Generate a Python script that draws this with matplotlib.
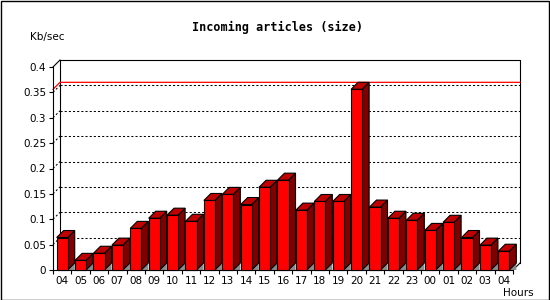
import matplotlib
matplotlib.use("Agg")
import matplotlib.pyplot as plt
from matplotlib.patches import Polygon, Rectangle

hours = ["04", "05", "06", "07", "08", "09", "10", "11", "12", "13", "14", "15", "16",
         "17", "18", "19", "20", "21", "22", "23", "00", "01", "02", "03", "04"]
kbsec = [0.064, 0.019, 0.033, 0.049, 0.082, 0.102, 0.108, 0.096, 0.137, 0.149, 0.129,
         0.163, 0.177, 0.118, 0.135, 0.135, 0.356, 0.124, 0.102, 0.098, 0.078, 0.094,
         0.064, 0.049, 0.037]
yticks = [0, 0.05, 0.1, 0.15, 0.2, 0.25, 0.3, 0.35, 0.4]
ylabels = ["0", "0.05", "0.1", "0.15", "0.2", "0.25", "0.3", "0.35", "0.4"]

W, H = 550, 300
DEPTH = 7  # px, pseudo 3d offset
n = len(kbsec)
ymax = 0.4

fig = plt.figure(figsize=(W / 100, H / 100), dpi=100)
fig.patches.append(Rectangle((0.5 / W, 0.5 / H), 1 - 1.5 / W, 1 - 1.5 / H,
                             transform=fig.transFigure, fill=False, lw=1.0, ec="black"))

ax = fig.add_axes([53 / W, 30 / H, 460 / W, 203 / H])
ax.set_xlim(0, n)
ax.set_ylim(0, ymax)
ax.patch.set_visible(False)
for s in ("top", "right"):
    ax.spines[s].set_visible(False)
for s in ("left", "bottom"):
    ax.spines[s].set_linewidth(0.8)

# depth in data units
dx = DEPTH / (ax.bbox.width / n)
dy = DEPTH / (ax.bbox.height / ymax)

kw = dict(clip_on=False, lw=0.8, color="black")
# back wall outline and side edges
ax.plot([dx, dx, n + dx, n + dx], [dy, ymax + dy, ymax + dy, dy], zorder=1, **kw)
ax.plot([0, dx], [ymax, ymax + dy], zorder=1, **kw)
ax.plot([n, n + dx], [0, dy], zorder=1, **kw)

# dotted grid on back wall + left wall
for v in yticks[1:-1]:
    ax.plot([dx, n + dx], [v + dy, v + dy], clip_on=False, lw=0.75, color="black",
            ls=(0, (2, 2)), zorder=1)
    ax.plot([0, dx], [v, v + dy], clip_on=False, lw=0.75, color="black",
            ls=(0, (2, 2)), zorder=1)

# max line
m = max(kbsec)
ax.plot([0, dx, n + dx], [m, m + dy, m + dy], clip_on=False, lw=0.9, color="red", zorder=1.5)

bw = 0.6
for i, v in enumerate(kbsec):
    x0 = i + 0.5 - bw / 2
    x1 = i + 0.5 + bw / 2
    ax.add_patch(Polygon([(x1, 0), (x1 + dx, dy), (x1 + dx, 0)], closed=True,
                         fc="#8c8c8c", ec="none", clip_on=False, zorder=2))
    ax.add_patch(Polygon([(x1, 0), (x1, v), (x1 + dx, v + dy), (x1 + dx, dy)], closed=True,
                         fc="#800000", ec="black", lw=0.8, clip_on=False, zorder=3))
    ax.add_patch(Polygon([(x0, v), (x0 + dx, v + dy), (x1 + dx, v + dy), (x1, v)], closed=True,
                         fc="#c00000", ec="black", lw=0.8, clip_on=False, zorder=3))
    ax.add_patch(Rectangle((x0, 0), bw, v, fc="#ff0000", ec="black", lw=0.8,
                           clip_on=False, zorder=4))

ax.set_yticks(yticks)
ax.set_yticklabels(ylabels)
ax.set_xticks(range(n + 1))
ax.set_xticklabels([])
ax.set_xticks([i + 0.5 for i in range(n)], minor=True)
ax.set_xticklabels(hours, minor=True)
ax.tick_params(axis="both", which="major", direction="out", length=3, width=0.8,
               labelsize=7.5, pad=2)
ax.tick_params(axis="x", which="minor", length=0, labelsize=7.5, pad=4)

fig.text(278 / W, 1 - 27 / H, "Incoming articles (size)", ha="center", va="center",
         family="DejaVu Sans Mono", weight="bold", fontsize=8.5)
fig.text(30 / W, 1 - 37 / H, "Kb/sec", ha="left", va="center", fontsize=7.5)
fig.text(534 / W, 1 - 293 / H, "Hours", ha="right", va="center", fontsize=7.5)

fig.savefig("out.png", dpi=100)
